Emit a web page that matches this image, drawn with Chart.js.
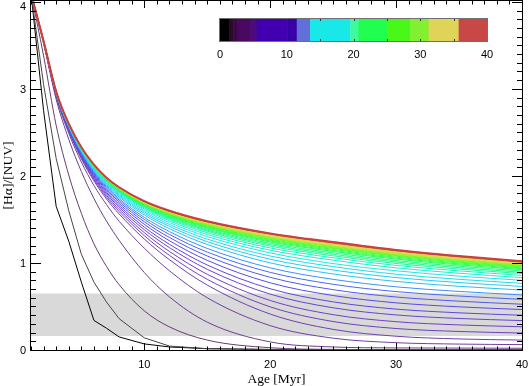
<!DOCTYPE html>
<html>
<head>
<meta charset="utf-8">
<script src="https://cdn.jsdelivr.net/npm/chart.js@4.4.1/dist/chart.umd.min.js"></script>
<style>
  html, body { margin: 0; padding: 0; background: #fff; }
  #wrap { width: 529px; height: 386px; }
</style>
</head>
<body>
<div id="wrap"><canvas id="chart" width="529" height="386"></canvas></div>
<script>
// Data, one array per model curve k = 0..40
const ages = [1, 2, 3, 4, 5, 6, 7, 8, 10, 12, 15, 20, 25, 30, 35, 40];

const ratioK0 = [4.10, 2.75, 1.65, 1.25, 0.78, 0.34, 0.25, 0.15, 0.07, 0.035, 0.015, 0.006, 0.003, 0.002, 0.001, 0.001];
const ratioK1 = [4.10, 3.05, 2.20, 1.60, 1.10, 0.78, 0.55, 0.36, 0.14, 0.045, 0.015, 0.006, 0.003, 0.002, 0.001, 0.001];
const ratioK2 = [4.10, 3.38, 2.58, 2.01, 1.57, 1.22, 0.96, 0.75, 0.45, 0.265, 0.114, 0.026, 0.007, 0.004, 0.003, 0.003];
const ratioK3 = [4.10, 3.52, 2.88, 2.42, 2.05, 1.74, 1.48, 1.26, 0.89, 0.61, 0.32, 0.093, 0.035, 0.024, 0.022, 0.020];
const ratioK4 = [4.10, 3.53, 2.91, 2.49, 2.16, 1.89, 1.67, 1.48, 1.17, 0.91, 0.60, 0.28, 0.136, 0.084, 0.068, 0.062];
const ratioK5 = [4.10, 3.537, 2.926, 2.515, 2.197, 1.943, 1.735, 1.563, 1.275, 1.037, 0.746, 0.413, 0.237, 0.158, 0.127, 0.114];
const ratioK6 = [4.10, 3.538, 2.930, 2.522, 2.209, 1.960, 1.757, 1.591, 1.314, 1.087, 0.812, 0.496, 0.327, 0.247, 0.213, 0.195];
const ratioK7 = [4.10, 3.539, 2.934, 2.529, 2.219, 1.975, 1.777, 1.615, 1.348, 1.132, 0.870, 0.569, 0.406, 0.325, 0.288, 0.267];
const ratioK8 = [4.10, 3.540, 2.937, 2.536, 2.230, 1.989, 1.796, 1.639, 1.382, 1.176, 0.927, 0.642, 0.485, 0.403, 0.362, 0.338];
const ratioK9 = [4.10, 3.541, 2.940, 2.541, 2.239, 2.002, 1.812, 1.660, 1.412, 1.214, 0.977, 0.704, 0.553, 0.470, 0.427, 0.399];
const ratioK10 = [4.10, 3.542, 2.943, 2.548, 2.248, 2.016, 1.830, 1.682, 1.444, 1.255, 1.030, 0.772, 0.626, 0.542, 0.496, 0.465];
const ratioK11 = [4.10, 3.543, 2.946, 2.553, 2.257, 2.028, 1.847, 1.703, 1.473, 1.293, 1.080, 0.835, 0.693, 0.609, 0.561, 0.526];
const ratioK12 = [4.10, 3.544, 2.949, 2.559, 2.266, 2.040, 1.862, 1.722, 1.500, 1.328, 1.125, 0.892, 0.755, 0.671, 0.620, 0.582];
const ratioK13 = [4.10, 3.544, 2.951, 2.564, 2.273, 2.050, 1.876, 1.739, 1.524, 1.360, 1.167, 0.944, 0.812, 0.726, 0.673, 0.633];
const ratioK14 = [4.10, 3.545, 2.954, 2.569, 2.281, 2.062, 1.891, 1.758, 1.551, 1.394, 1.212, 1.001, 0.874, 0.788, 0.732, 0.689];
const ratioK15 = [4.10, 3.546, 2.956, 2.573, 2.287, 2.070, 1.902, 1.772, 1.571, 1.420, 1.245, 1.043, 0.919, 0.832, 0.775, 0.730];
const ratioK16 = [4.10, 3.546, 2.958, 2.576, 2.293, 2.078, 1.911, 1.784, 1.588, 1.442, 1.274, 1.080, 0.958, 0.871, 0.812, 0.766];
const ratioK17 = [4.10, 3.547, 2.960, 2.579, 2.298, 2.085, 1.921, 1.796, 1.605, 1.464, 1.303, 1.116, 0.993, 0.910, 0.849, 0.801];
const ratioK18 = [4.10, 3.547, 2.961, 2.582, 2.302, 2.091, 1.929, 1.806, 1.620, 1.483, 1.327, 1.147, 1.032, 0.944, 0.882, 0.832];
const ratioK19 = [4.10, 3.548, 2.962, 2.585, 2.306, 2.096, 1.936, 1.815, 1.632, 1.499, 1.348, 1.173, 1.060, 0.972, 0.909, 0.857];
const ratioK20 = [4.10, 3.548, 2.963, 2.587, 2.309, 2.101, 1.942, 1.822, 1.642, 1.511, 1.365, 1.194, 1.082, 0.994, 0.930, 0.878];
const ratioK21 = [4.10, 3.548, 2.964, 2.588, 2.311, 2.104, 1.946, 1.827, 1.649, 1.521, 1.377, 1.210, 1.099, 1.011, 0.946, 0.893];
const ratioK22 = [4.10, 3.548, 2.965, 2.589, 2.314, 2.107, 1.950, 1.832, 1.656, 1.530, 1.389, 1.225, 1.116, 1.027, 0.962, 0.908];
const ratioK23 = [4.10, 3.549, 2.965, 2.591, 2.316, 2.110, 1.954, 1.837, 1.664, 1.540, 1.402, 1.241, 1.133, 1.044, 0.978, 0.923];
const ratioK24 = [4.10, 3.549, 2.966, 2.592, 2.317, 2.112, 1.957, 1.841, 1.668, 1.546, 1.410, 1.251, 1.144, 1.055, 0.989, 0.934];
const ratioK25 = [4.10, 3.549, 2.966, 2.593, 2.319, 2.114, 1.959, 1.844, 1.673, 1.553, 1.418, 1.262, 1.156, 1.066, 1.000, 0.944];
const ratioK26 = [4.10, 3.549, 2.967, 2.594, 2.320, 2.116, 1.962, 1.848, 1.678, 1.559, 1.426, 1.272, 1.167, 1.078, 1.010, 0.954];
const ratioK27 = [4.10, 3.549, 2.967, 2.595, 2.322, 2.118, 1.964, 1.850, 1.682, 1.564, 1.433, 1.281, 1.176, 1.086, 1.019, 0.962];
const ratioK28 = [4.10, 3.549, 2.968, 2.595, 2.323, 2.120, 1.967, 1.853, 1.686, 1.569, 1.440, 1.289, 1.185, 1.095, 1.028, 0.970];
const ratioK29 = [4.10, 3.549, 2.968, 2.596, 2.324, 2.121, 1.969, 1.856, 1.690, 1.573, 1.445, 1.296, 1.193, 1.103, 1.035, 0.977];
const ratioK30 = [4.10, 3.550, 2.968, 2.597, 2.325, 2.122, 1.970, 1.858, 1.692, 1.577, 1.450, 1.303, 1.199, 1.110, 1.041, 0.983];
const ratioK31 = [4.10, 3.550, 2.969, 2.597, 2.326, 2.124, 1.972, 1.860, 1.695, 1.581, 1.455, 1.309, 1.206, 1.117, 1.048, 0.990];
const ratioK32 = [4.10, 3.550, 2.969, 2.598, 2.326, 2.125, 1.973, 1.861, 1.698, 1.584, 1.459, 1.314, 1.212, 1.122, 1.053, 0.995];
const ratioK33 = [4.10, 3.550, 2.969, 2.598, 2.327, 2.126, 1.975, 1.863, 1.700, 1.587, 1.464, 1.319, 1.218, 1.128, 1.059, 1.000];
const ratioK34 = [4.10, 3.550, 2.969, 2.599, 2.328, 2.127, 1.976, 1.865, 1.702, 1.590, 1.467, 1.323, 1.222, 1.132, 1.063, 1.004];
const ratioK35 = [4.10, 3.550, 2.969, 2.599, 2.328, 2.128, 1.977, 1.866, 1.704, 1.592, 1.470, 1.328, 1.227, 1.137, 1.067, 1.008];
const ratioK36 = [4.10, 3.550, 2.970, 2.599, 2.329, 2.128, 1.978, 1.867, 1.706, 1.594, 1.473, 1.331, 1.230, 1.140, 1.070, 1.011];
const ratioK37 = [4.10, 3.550, 2.970, 2.599, 2.329, 2.129, 1.978, 1.868, 1.707, 1.596, 1.475, 1.334, 1.233, 1.143, 1.074, 1.014];
const ratioK38 = [4.10, 3.550, 2.970, 2.600, 2.329, 2.129, 1.979, 1.869, 1.708, 1.597, 1.477, 1.336, 1.235, 1.146, 1.076, 1.016];
const ratioK39 = [4.10, 3.550, 2.970, 2.600, 2.330, 2.130, 1.979, 1.869, 1.709, 1.599, 1.478, 1.338, 1.238, 1.148, 1.078, 1.018];
const ratioK40 = [4.10, 3.55, 2.97, 2.60, 2.33, 2.13, 1.98, 1.87, 1.71, 1.60, 1.48, 1.34, 1.24, 1.15, 1.08, 1.02];

const curves = [
  ratioK0, ratioK1, ratioK2, ratioK3, ratioK4, ratioK5, ratioK6, ratioK7, ratioK8, ratioK9,
  ratioK10, ratioK11, ratioK12, ratioK13, ratioK14, ratioK15, ratioK16, ratioK17, ratioK18, ratioK19,
  ratioK20, ratioK21, ratioK22, ratioK23, ratioK24, ratioK25, ratioK26, ratioK27, ratioK28, ratioK29,
  ratioK30, ratioK31, ratioK32, ratioK33, ratioK34, ratioK35, ratioK36, ratioK37, ratioK38, ratioK39,
  ratioK40
];

// observed range band
const bandAges = [1, 40];
const bandTop = 0.65;
const bandBottom = 0.16;

const xTickValues = [10, 20, 30, 40];
const yTickValues = [0, 1, 2, 3, 4];
const cbarTickValues = [0, 10, 20, 30, 40];

// Colour helpers (IDL-like rainbow)
const lineStops = [
  [0, '#000000'], [1, '#4a424a'], [2, '#6a3a72'], [4, '#7040a0'], [7, '#7040c8'],
  [10, '#5a48e8'], [12, '#4a68f4'], [13, '#3a90fa'], [14, '#28c0f4'], [17, '#20e8e4'],
  [19, '#20f0c0'], [20, '#20f8a0'], [23, '#20ff60'], [26, '#40ff30'], [29, '#90f020'],
  [31, '#d0e040'], [35, '#e8c858'], [36, '#d86050'], [40, '#c84040']
];
function hexToRgb(h) {
  return [parseInt(h.slice(1, 3), 16), parseInt(h.slice(3, 5), 16), parseInt(h.slice(5, 7), 16)];
}
function lineColor(k) {
  for (let i = 0; i < lineStops.length - 1; i++) {
    const [k0, c0] = lineStops[i];
    const [k1, c1] = lineStops[i + 1];
    if (k >= k0 && k <= k1) {
      const f = (k - k0) / (k1 - k0);
      const a = hexToRgb(c0), b = hexToRgb(c1);
      const m = a.map((v, j) => Math.round(v + (b[j] - v) * f));
      return `rgb(${m[0]},${m[1]},${m[2]})`;
    }
  }
  return '#c84040';
}

// colour bar blocks [from, to, colour]
const cbarBlocks = [
  [0, 1.35, '#000000'], [1.35, 2.0, '#2c0a2e'], [2.0, 2.5, '#380a3e'], [2.5, 4.5, '#4a0860'],
  [4.5, 5.5, '#4c0a7a'], [5.5, 10.1, '#4000b0'], [10.1, 11.5, '#3a00a8'], [11.5, 13.5, '#6070d8'],
  [13.5, 19.5, '#18e8e8'], [19.5, 20.75, '#40f8a0'], [20.75, 25, '#20ff50'], [25, 28.5, '#48f818'],
  [28.5, 31.25, '#80f030'], [31.25, 35.75, '#e0d458'], [35.75, 40, '#c84848']
];

const datasets = [];
datasets.push({
  label: 'band',
  data: bandAges.map(a => ({ x: a, y: bandTop })),
  borderWidth: 0,
  pointRadius: 0,
  backgroundColor: '#d9d9d9',
  fill: { value: bandBottom },
  order: 100
});
curves.forEach((vals, k) => {
  datasets.push({
    label: 'k' + k,
    data: ages.map((a, j) => ({ x: a, y: vals[j] })),
    borderColor: lineColor(k),
    borderWidth: k === 40 ? 2 : 1,
    pointRadius: 0,
    fill: false,
    tension: 0,
    cubicInterpolationMode: k <= 1 ? 'default' : 'monotone',
    order: 60 - k
  });
});

// IDL style axes, labels and colour bar
const idlAxes = {
  id: 'idlAxes',
  afterDatasetsDraw(chart) {
    const { ctx, chartArea: a, scales: { x, y } } = chart;
    ctx.save();
    ctx.strokeStyle = '#000';
    ctx.lineWidth = 1;
    ctx.strokeRect(a.left - 0.5, a.top - 0.5, a.right - a.left + 1, a.bottom - a.top + 1);

    ctx.beginPath();
    for (let v = 1; v <= 40; v++) {
      const px = Math.round(x.getPixelForValue(v)) + 0.5;
      const len = v % 10 === 0 ? 7 : 3.5;
      ctx.moveTo(px, a.bottom); ctx.lineTo(px, a.bottom - len);
      ctx.moveTo(px, a.top); ctx.lineTo(px, a.top + len);
    }
    for (let i = 0; i <= 40; i++) {
      const v = i / 10;
      const py = Math.round(y.getPixelForValue(v)) + 0.5;
      const len = i % 10 === 0 ? 10 : 5;
      ctx.moveTo(a.left, py); ctx.lineTo(a.left + len, py);
      ctx.moveTo(a.right, py); ctx.lineTo(a.right - len, py);
    }
    ctx.stroke();

    ctx.fillStyle = '#000';
    ctx.font = '11px "Liberation Sans", Arial, sans-serif';
    ctx.textAlign = 'center';
    ctx.textBaseline = 'alphabetic';
    xTickValues.forEach(v => {
      ctx.fillText(String(v), x.getPixelForValue(v), 368);
    });
    ctx.textAlign = 'right';
    yTickValues.forEach(v => {
      let py = y.getPixelForValue(v) + 4;
      if (v === 4) py = 9.5;
      ctx.fillText(String(v), 26, py);
    });

    ctx.font = '13.5px "Liberation Serif", "Times New Roman", serif';
    ctx.textAlign = 'center';
    ctx.fillText('Age [Myr]', (a.left + a.right) / 2, 383);
    ctx.save();
    ctx.translate(11.5, (a.top + a.bottom) / 2);
    ctx.rotate(-Math.PI / 2);
    ctx.fillText('[H\u03b1]/[NUV]', 0, 0);
    ctx.restore();

    // colour bar
    const cb = { left: 220, right: 487, top: 19, bottom: 41 };
    const cx = v => cb.left + (cb.right - cb.left) * v / 40;
    cbarBlocks.forEach(([v0, v1, c]) => {
      ctx.fillStyle = c;
      ctx.fillRect(cx(v0), cb.top, cx(v1) - cx(v0) + 0.5, cb.bottom - cb.top);
    });
    ctx.strokeStyle = '#707070';
    ctx.strokeRect(cb.left - 0.5, cb.top - 0.5, cb.right - cb.left + 1, cb.bottom - cb.top + 1);
    ctx.strokeStyle = '#303030';
    ctx.beginPath();
    for (let v = 5; v < 40; v += 5) {
      const px = Math.round(cx(v)) + 0.5;
      ctx.moveTo(px, cb.top); ctx.lineTo(px, cb.top + 2);
      ctx.moveTo(px, cb.bottom); ctx.lineTo(px, cb.bottom - 2);
    }
    ctx.stroke();
    ctx.fillStyle = '#000';
    ctx.font = '11px "Liberation Sans", Arial, sans-serif';
    ctx.textAlign = 'center';
    cbarTickValues.forEach(v => ctx.fillText(String(v), cx(v), 58));
    ctx.restore();
  }
};

new Chart(document.getElementById('chart'), {
  type: 'line',
  data: { datasets },
  options: {
    responsive: false,
    animation: false,
    devicePixelRatio: 1,
    layout: { padding: { left: 31, right: 7, top: 1, bottom: 36 } },
    plugins: { legend: { display: false }, tooltip: { enabled: false } },
    scales: {
      x: { type: 'linear', min: 1, max: 40, display: false },
      y: { type: 'linear', min: 0, max: 4.01, display: false }
    }
  },
  plugins: [idlAxes]
});
</script>
</body>
</html>
